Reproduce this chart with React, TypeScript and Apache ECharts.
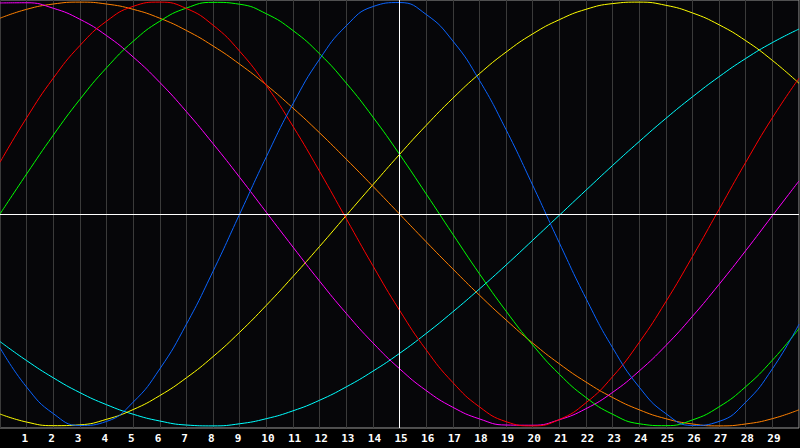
import React, { useEffect, useRef } from "react";
import * as echarts from "echarts";

const days = [0, 1, 2, 3, 4, 5, 6, 7, 8, 9, 10, 11, 12, 13, 14, 15, 16, 17, 18, 19, 20, 21, 22, 23, 24, 25, 26, 27, 28, 29, 30];
const tickDays = [1, 2, 3, 4, 5, 6, 7, 8, 9, 10, 11, 12, 13, 14, 15, 16, 17, 18, 19, 20, 21, 22, 23, 24, 25, 26, 27, 28, 29];
const tickLabels = ["1", "2", "3", "4", "5", "6", "7", "8", "9", "10", "11", "12", "13", "14", "15", "16", "17", "18", "19", "20", "21", "22", "23", "24", "25", "26", "27", "28", "29"];
const todayDay = 15;

const physical = [-0.631, -0.817, -0.942, -0.998, -0.979, -0.888, -0.731, -0.52, -0.27, 0, 0.27, 0.52, 0.731, 0.888, 0.979, 0.998, 0.942, 0.817, 0.631, 0.398, 0.136, -0.136, -0.398, -0.631, -0.817, -0.942, -0.998, -0.979, -0.888, -0.731, -0.52];
const emotional = [0.244, 0.454, 0.641, 0.795, 0.91, 0.98, 1.0, 0.97, 0.891, 0.768, 0.606, 0.414, 0.201, -0.022, -0.244, -0.454, -0.641, -0.795, -0.91, -0.98, -1.0, -0.97, -0.891, -0.768, -0.606, -0.414, -0.201, 0.022, 0.244, 0.454, 0.641];
const intellectual = [0, 0.189, 0.372, 0.541, 0.69, 0.815, 0.91, 0.972, 0.999, 0.99, 0.945, 0.866, 0.756, 0.618, 0.458, 0.282, 0.095, -0.095, -0.282, -0.458, -0.618, -0.756, -0.866, -0.945, -0.99, -0.999, -0.972, -0.91, -0.815, -0.69, -0.541];
const intuitive = [0.996, 0.997, 0.971, 0.919, 0.842, 0.741, 0.621, 0.483, 0.332, 0.173, 0.008, -0.156, -0.317, -0.469, -0.608, -0.73, -0.833, -0.912, -0.967, -0.996, -0.997, -0.971, -0.919, -0.842, -0.741, -0.621, -0.483, -0.332, -0.173, -0.008, 0.156];
const aesthetic = [-0.944, -0.982, -0.999, -0.995, -0.969, -0.923, -0.857, -0.773, -0.673, -0.558, -0.431, -0.295, -0.153, -0.007, 0.138, 0.281, 0.418, 0.546, 0.662, 0.764, 0.85, 0.917, 0.966, 0.993, 1.0, 0.985, 0.949, 0.893, 0.818, 0.725, 0.617];
const awareness = [0.924, 0.966, 0.991, 1.0, 0.991, 0.966, 0.924, 0.866, 0.793, 0.707, 0.609, 0.5, 0.383, 0.259, 0.131, 0, -0.131, -0.259, -0.383, -0.5, -0.609, -0.707, -0.793, -0.866, -0.924, -0.966, -0.991, -1.0, -0.991, -0.966, -0.924];
const spiritual = [-0.602, -0.692, -0.773, -0.843, -0.9, -0.945, -0.977, -0.996, -1.0, -0.99, -0.966, -0.929, -0.879, -0.816, -0.742, -0.658, -0.564, -0.462, -0.354, -0.241, -0.124, -0.006, 0.112, 0.229, 0.342, 0.451, 0.553, 0.648, 0.734, 0.809, 0.873];

const seriesDefs = [
  { name: "Spiritual", color: "#00ffff", values: spiritual },
  { name: "Aesthetic", color: "#ffff00", values: aesthetic },
  { name: "Awareness", color: "#ff8000", values: awareness },
  { name: "Intuitive", color: "#ff00ff", values: intuitive },
  { name: "Intellectual", color: "#00ff00", values: intellectual },
  { name: "Emotional", color: "#ff0000", values: emotional },
  { name: "Physical", color: "#0a64ff", values: physical },
];

export default function App() {
  const ref = useRef<HTMLDivElement>(null);
  useEffect(() => {
    document.body.style.margin = "0";
    document.body.style.background = "#000";
    if (!ref.current) return;
    const chart = echarts.init(ref.current, undefined, { renderer: "svg" });
    const lineSeries: any[] = seriesDefs.map((s) => ({
      name: s.name,
      type: "line",
      xAxisIndex: 0,
      data: days.map((d, i) => [d, s.values[i]]),
      smooth: 0.5,
      showSymbol: false,
      symbol: "none",
      silent: true,
      lineStyle: { color: s.color, width: 1 },
      z: 3,
    }));
    const option: any = {
      animation: false,
      backgroundColor: "#000",
      grid: {
        left: 0,
        right: 1,
        top: 0,
        bottom: 20,
        show: true,
        backgroundColor: "#060609",
        borderColor: "#9a9a9a",
        borderWidth: 1,
      },
      xAxis: [
        {
          type: "value",
          min: 0,
          max: 30,
          interval: 1,
          axisLine: { show: false },
          axisTick: { show: false },
          axisLabel: { show: false },
          splitLine: { show: true, lineStyle: { color: "#3a3a3a", width: 1 } },
        },
        {
          type: "value",
          position: "bottom",
          min: 0.19,
          max: 30.19,
          axisLine: { show: false },
          axisTick: { show: false },
          splitLine: { show: false },
          axisLabel: {
            show: true,
            customValues: tickDays,
            color: "#ffffff",
            fontFamily: "DejaVu Sans Mono",
            fontWeight: "bold",
            fontSize: 11,
            align: "left",
            margin: 5,
            showMinLabel: true,
            showMaxLabel: true,
            formatter: (v: number) => {
              const idx = tickDays.indexOf(Math.round(v));
              return idx >= 0 ? tickLabels[idx] : "";
            },
          },
        },
      ],
      yAxis: {
        type: "value",
        min: -1.01,
        max: 1.01,
        show: false,
        splitLine: { show: false },
      },
      series: [
        {
          type: "line",
          xAxisIndex: 0,
          data: [[todayDay, 0]],
          showSymbol: false,
          symbol: "none",
          lineStyle: { opacity: 0 },
          silent: true,
          z: 2,
          markLine: {
            silent: true,
            symbol: ["none", "none"],
            label: { show: false },
            lineStyle: { color: "#ffffff", type: "solid", width: 1 },
            data: [{ yAxis: 0 }, { xAxis: todayDay }],
          },
        },
        ...lineSeries,
      ],
    };
    chart.setOption(option);
    return () => chart.dispose();
  }, []);
  return (
    <div
      ref={ref}
      style={{ position: "fixed", left: 0, top: 0, width: 800, height: 448, background: "#000" }}
    />
  );
}
